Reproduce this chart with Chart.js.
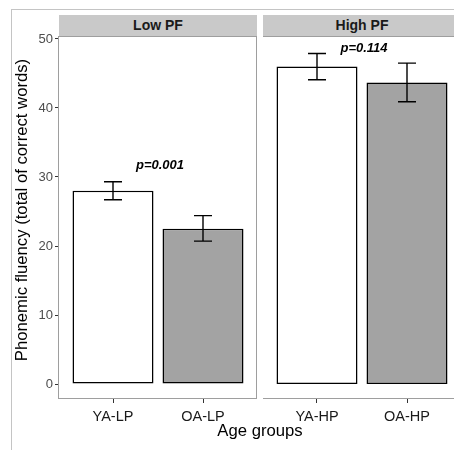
<!DOCTYPE html>
<html>
<head>
<meta charset="utf-8">
<script src="https://cdn.jsdelivr.net/npm/chart.js@4"></script>
<style>
  html, body { margin: 0; padding: 0; background: #ffffff; overflow: hidden; }
  #wrap { position: relative; width: 454px; height: 450px; overflow: hidden; font-family: "Liberation Sans", Arial, sans-serif; }
  .frame { position: absolute; left: 11px; top: 9px; width: 600px; height: 600px; border-left: 1px solid #c4c4c4; border-top: 1px solid #c4c4c4; }
  .strip { position: absolute; top: 15px; height: 21px; width: 198px; background: #c9c9c9; color: #1a1a1a; font-weight: bold; font-size: 14px; line-height: 21px; text-align: center; }
  canvas { position: absolute; }
  .xtitle { position: absolute; left: 59px; width: 402px; top: 420px; height: 22px; line-height: 22px; text-align: center; font-size: 16.7px; color: #000; }
  .ytitle { position: absolute; left: -178px; top: 199px; width: 400px; height: 22px; line-height: 22px; text-align: center; font-size: 16.7px; color: #000; transform: rotate(-90deg); }
</style>
</head>
<body>
<div id="wrap">
  <div class="frame"></div>
  <div class="strip" style="left:59px" id="stripLow"></div>
  <div class="strip" style="left:263px" id="stripHigh"></div>
  <canvas id="cLow" width="257" height="414" style="left:0px; top:15px"></canvas>
  <canvas id="cHigh" width="198" height="414" style="left:263px; top:15px"></canvas>
  <div class="xtitle" id="xtitle"></div>
  <div class="ytitle" id="ytitle"></div>
</div>
<script>
// ---- data ----
const panelLabels = ['Low PF', 'High PF'];
const categoriesLow = ['YA-LP', 'OA-LP'];
const categoriesHigh = ['YA-HP', 'OA-HP'];
const meansLow = [28.0, 22.5];
const lowerLow = [26.7, 20.7];
const upperLow = [29.3, 24.4];
const meansHigh = [46.0, 43.7];
const lowerHigh = [44.1, 40.9];
const upperHigh = [47.9, 46.5];
const pLabels = ['p=0.001', 'p=0.114'];
const pLabelY = [31.7, 48.7];
const yTicks = [0, 10, 20, 30, 40, 50];
const xTitle = 'Age groups';
const yTitle = 'Phonemic fluency (total of correct words)';

document.getElementById('stripLow').textContent = panelLabels[0];
document.getElementById('stripHigh').textContent = panelLabels[1];
document.getElementById('xtitle').textContent = xTitle;
document.getElementById('ytitle').textContent = yTitle;

const FONT = "'Liberation Sans', Arial, sans-serif";
const Y_MIN = -2.17, Y_MAX = 50.43;
const X_MIN = 0.4, X_MAX = 2.6;
const fills = ['#ffffff', '#a3a3a3'];

function makeChart(canvasId, cats, means, lower, upper, pLabel, pY, showY) {
  const positions = cats.map((c, i) => i + 1);
  const panelPlugin = {
    id: 'panel' + canvasId,
    afterDatasetsDraw(chart) {
      const ctx = chart.ctx;
      const xs = chart.scales.x, ys = chart.scales.y;
      ctx.save();
      // error bars
      ctx.strokeStyle = '#000';
      ctx.lineWidth = 1.4;
      for (let i = 0; i < positions.length; i++) {
        const x = xs.getPixelForValue(positions[i]);
        const yt = ys.getPixelForValue(upper[i]);
        const yb = ys.getPixelForValue(lower[i]);
        const hw = 9;
        ctx.beginPath();
        ctx.moveTo(x, yt); ctx.lineTo(x, yb);
        ctx.moveTo(x - hw, yt); ctx.lineTo(x + hw, yt);
        ctx.moveTo(x - hw, yb); ctx.lineTo(x + hw, yb);
        ctx.stroke();
      }
      // p label
      ctx.fillStyle = '#000';
      ctx.font = 'italic bold 13px ' + FONT;
      ctx.textAlign = 'center';
      ctx.textBaseline = 'middle';
      ctx.fillText(pLabel, xs.getPixelForValue(1.5) + 2, ys.getPixelForValue(pY));
      // panel border
      const a = chart.chartArea;
      ctx.strokeStyle = '#9e9e9e';
      ctx.lineWidth = 1;
      ctx.strokeRect(a.left - 0.5, a.top + 0.5, a.right - a.left, a.bottom - a.top - 1);
      ctx.restore();
    }
  };
  return new Chart(document.getElementById(canvasId), {
    type: 'bar',
    data: {
      datasets: [{
        data: positions.map((p, i) => ({ x: p, y: means[i] })),
        backgroundColor: fills,
        borderColor: '#000000',
        borderWidth: 1.5,
        borderSkipped: false,
        barPercentage: 0.9,
        categoryPercentage: 1.0
      }]
    },
    options: {
      responsive: false,
      animation: false,
      devicePixelRatio: 1,
      layout: { padding: { top: 21, left: 0, right: 0, bottom: 0 } },
      plugins: { legend: { display: false }, tooltip: { enabled: false }, title: { display: false } },
      scales: {
        x: {
          type: 'linear',
          offset: false,
          min: X_MIN, max: X_MAX,
          afterBuildTicks: (s) => { s.ticks = positions.map(v => ({ value: v })); },
          afterFit: (s) => { s.height = 30; s.paddingLeft = 0; s.paddingRight = 0; s.paddingTop = 0; s.paddingBottom = 0; },
          ticks: {
            callback: (v) => cats[positions.indexOf(v)] ?? '',
            color: '#1a1a1a',
            font: { family: FONT, size: 14.5 },
            padding: 5,
            maxRotation: 0,
            autoSkip: false
          },
          grid: { display: true, offset: false, drawOnChartArea: false, drawTicks: true, tickLength: 4, tickColor: '#333333', tickWidth: 1 },
          border: { display: false }
        },
        y: {
          display: showY,
          min: Y_MIN, max: Y_MAX,
          afterBuildTicks: (s) => { s.ticks = yTicks.map(v => ({ value: v })); },
          afterFit: (s) => { if (showY) s.width = 59; s.paddingLeft = 0; s.paddingRight = 0; s.paddingTop = 0; s.paddingBottom = 0; },
          ticks: {
            color: '#4d4d4d',
            font: { family: FONT, size: 13 },
            padding: 2
          },
          grid: { display: true, drawOnChartArea: false, drawTicks: true, tickLength: 4, tickColor: '#333333', tickWidth: 1 },
          border: { display: false }
        }
      }
    },
    plugins: [panelPlugin]
  });
}

makeChart('cLow', categoriesLow, meansLow, lowerLow, upperLow, pLabels[0], pLabelY[0], true);
makeChart('cHigh', categoriesHigh, meansHigh, lowerHigh, upperHigh, pLabels[1], pLabelY[1], false);
</script>
</body>
</html>
